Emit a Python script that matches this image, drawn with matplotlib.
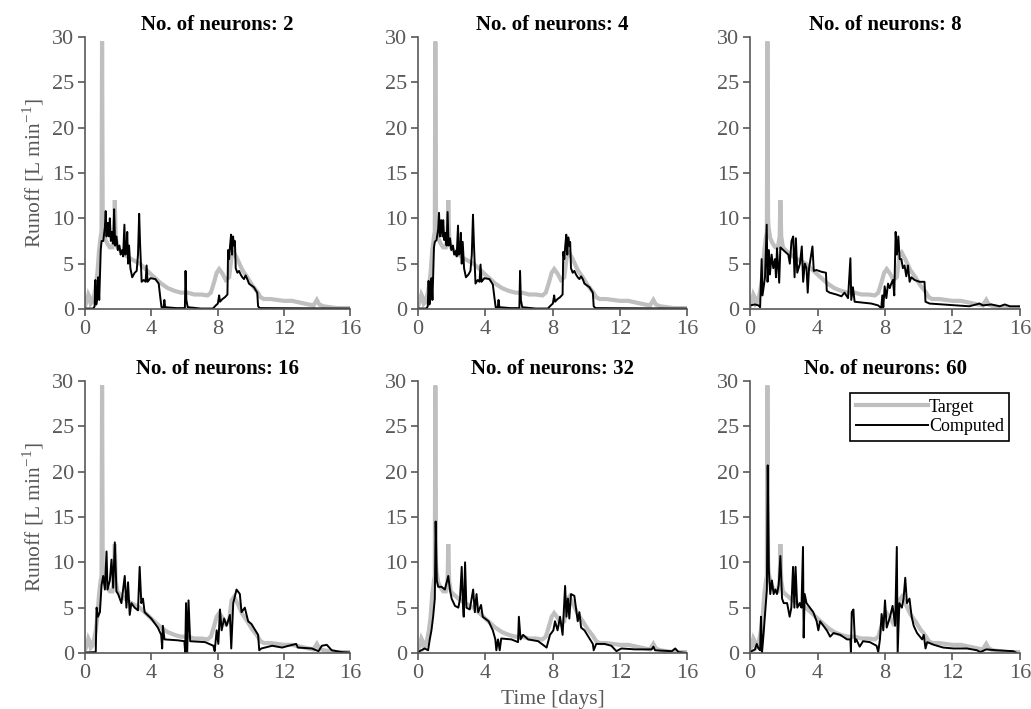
import matplotlib
matplotlib.use("Agg")
import matplotlib.pyplot as plt

plt.rcParams['font.family'] = ['Liberation Serif', 'DejaVu Serif']
plt.rcParams['mathtext.fontset'] = 'custom'
plt.rcParams['mathtext.rm'] = 'Liberation Serif'

# observed runoff (same target in every panel): (day, L/min)
target = [(0, 0.3), (0.1, 0.8), (0.2, 1.6), (0.3, 1.2), (0.35, 0.6), (0.45, 0.8),
          (0.55, 1.5), (0.65, 2.5), (0.75, 4.0), (0.85, 6.5), (0.95, 8.0), (1.0, 8.5),
          (1.03, 29.5), (1.07, 10.0), (1.1, 9.0), (1.2, 7.8), (1.35, 7.2), (1.5, 6.8),
          (1.65, 6.8), (1.76, 8.0), (1.8, 12.0), (1.85, 8.0), (1.95, 6.8), (2.1, 6.5),
          (2.4, 6.0), (2.7, 5.6), (3.0, 5.3), (3.3, 5.0), (3.6, 4.5), (4.0, 3.8),
          (4.3, 3.3), (4.6, 2.8), (5.0, 2.3), (5.4, 2.0), (5.8, 1.8), (6.2, 1.8),
          (6.6, 1.6), (7.0, 1.6), (7.4, 1.5), (7.6, 1.8), (7.8, 3.0), (7.95, 4.0),
          (8.1, 4.4), (8.3, 3.9), (8.5, 3.2), (8.7, 3.5), (8.85, 5.8), (9.0, 6.2),
          (9.2, 5.5), (9.5, 4.3), (9.8, 3.5), (10.1, 2.6), (10.4, 1.9), (10.6, 1.3),
          (10.8, 1.1), (11.2, 1.1), (11.6, 1.0), (12.0, 0.9), (12.5, 0.9), (13.0, 0.7),
          (13.5, 0.5), (13.8, 0.4), (14.0, 1.0), (14.15, 0.5), (14.4, 0.3), (14.8, 0.2),
          (15.2, 0.1), (16.0, 0.1)]

# computed runoff for each network size: (day, L/min)
comp_2 = [(0, 0.05), (0.5, 0.05), (0.58, 0.3), (0.63, 3.2), (0.68, 0.5), (0.74, 1.2),
          (0.8, 3.5), (0.86, 1.0), (0.95, 6.5), (1.0, 7.5), (1.1, 7.5), (1.2, 9.0),
          (1.25, 10.8), (1.3, 8.0), (1.38, 9.5), (1.45, 8.0), (1.5, 10.0), (1.56, 7.5),
          (1.62, 8.5), (1.7, 7.2), (1.76, 11.0), (1.82, 7.0), (1.9, 8.0), (1.98, 6.5),
          (2.08, 7.0), (2.15, 6.0), (2.25, 6.5), (2.3, 5.8), (2.38, 9.3), (2.43, 6.0),
          (2.5, 6.2), (2.55, 8.5), (2.6, 5.0), (2.66, 7.0), (2.74, 4.5), (2.85, 3.5),
          (3.0, 4.0), (3.12, 4.2), (3.2, 6.0), (3.27, 10.5), (3.33, 7.0), (3.42, 3.0),
          (3.55, 3.2), (3.66, 3.0), (3.72, 4.8), (3.78, 3.0), (3.95, 3.4), (4.25, 3.3),
          (4.45, 2.8), (4.55, 1.2), (4.62, 0.2), (4.75, 0.2), (4.79, 1.0), (4.84, 0.2),
          (5.5, 0.1), (6.03, 0.1), (6.07, 4.2), (6.12, 1.0), (6.2, 0.2), (7.0, 0.05),
          (7.72, 0.05), (7.9, 0.4), (8.02, 0.6), (8.1, 1.5), (8.15, 0.8), (8.3, 1.1),
          (8.45, 1.3), (8.6, 1.6), (8.64, 6.5), (8.7, 5.5), (8.76, 7.0), (8.82, 8.2),
          (8.88, 6.0), (8.94, 8.0), (9.0, 7.0), (9.05, 7.5), (9.1, 4.5), (9.2, 4.0),
          (9.3, 4.2), (9.4, 3.8), (9.5, 3.5), (9.6, 3.3), (9.7, 3.7), (9.8, 3.3),
          (9.9, 2.8), (10.05, 2.6), (10.2, 2.4), (10.4, 1.8), (10.45, 0.3), (10.55, 0.1),
          (16, 0.05)]

comp_4 = [(0, 0.05), (0.5, 0.05), (0.58, 0.3), (0.63, 3.1), (0.68, 0.5), (0.74, 1.2),
          (0.8, 3.4), (0.86, 1.0), (0.95, 6.8), (1.0, 7.4), (1.1, 7.6), (1.2, 8.8),
          (1.25, 10.6), (1.3, 8.0), (1.38, 9.8), (1.45, 8.0), (1.5, 9.8), (1.56, 7.6),
          (1.62, 8.4), (1.7, 7.0), (1.76, 10.7), (1.82, 7.0), (1.9, 7.8), (1.98, 6.5),
          (2.08, 7.0), (2.15, 6.0), (2.25, 6.4), (2.3, 5.8), (2.38, 9.2), (2.43, 6.0),
          (2.5, 6.2), (2.55, 8.4), (2.6, 5.0), (2.66, 7.4), (2.74, 4.5), (2.85, 3.5),
          (3.0, 3.8), (3.12, 4.2), (3.2, 6.0), (3.27, 10.4), (3.33, 7.0), (3.42, 2.8),
          (3.55, 3.2), (3.66, 3.0), (3.72, 4.9), (3.78, 3.0), (3.95, 3.4), (4.25, 3.3),
          (4.45, 2.7), (4.55, 1.2), (4.62, 0.2), (4.75, 0.2), (4.79, 1.0), (4.84, 0.2),
          (5.5, 0.1), (6.03, 0.1), (6.07, 4.2), (6.12, 1.0), (6.2, 0.2), (7.0, 0.05),
          (7.72, 0.05), (7.9, 0.4), (8.02, 0.6), (8.1, 1.5), (8.15, 0.8), (8.3, 1.1),
          (8.45, 1.3), (8.6, 1.6), (8.64, 6.3), (8.7, 5.5), (8.76, 7.0), (8.82, 8.2),
          (8.88, 6.0), (8.94, 7.9), (9.0, 7.0), (9.05, 7.4), (9.1, 4.5), (9.2, 4.0),
          (9.3, 4.2), (9.4, 3.8), (9.5, 3.5), (9.6, 3.3), (9.7, 3.6), (9.8, 3.3),
          (9.9, 2.8), (10.05, 2.6), (10.2, 2.4), (10.4, 1.8), (10.45, 0.3), (10.55, 0.1),
          (16, 0.05)]

comp_8 = [(0, 0.4), (0.3, 0.5), (0.5, 0.4), (0.6, 0.2), (0.69, 5.5), (0.74, 1.5),
          (0.89, 3.5), (0.99, 9.3), (1.04, 3.0), (1.12, 6.5), (1.18, 3.8), (1.28, 6.0),
          (1.38, 4.5), (1.48, 5.5), (1.54, 3.5), (1.6, 6.7), (1.73, 2.9), (1.8, 6.8),
          (1.97, 6.5), (2.27, 6.0), (2.36, 5.0), (2.46, 7.5), (2.56, 8.0), (2.64, 3.5),
          (2.72, 7.8), (2.8, 4.0), (2.96, 5.0), (3.07, 6.9), (3.15, 3.0), (3.25, 5.0),
          (3.35, 4.5), (3.42, 1.8), (3.5, 4.5), (3.7, 6.9), (3.78, 4.2), (3.94, 4.3),
          (4.24, 4.1), (4.5, 4.0), (4.55, 2.0), (4.73, 1.8), (5.12, 1.6), (5.42, 1.4),
          (5.6, 1.8), (5.81, 1.2), (5.95, 5.6), (6.0, 1.0), (6.1, 2.4), (6.2, 0.8),
          (6.7, 0.7), (7.19, 0.6), (7.59, 0.4), (7.78, 0.1), (7.84, 1.5), (7.9, 0.2),
          (7.98, 2.5), (8.08, 1.2), (8.18, 2.8), (8.28, 2.3), (8.37, 2.8), (8.47, 3.2),
          (8.55, 1.5), (8.63, 8.5), (8.71, 6.0), (8.79, 8.0), (8.87, 5.5), (8.97, 5.5),
          (9.06, 4.5), (9.16, 4.8), (9.26, 3.6), (9.36, 4.8), (9.46, 3.0), (9.56, 3.5),
          (9.75, 3.2), (10.05, 3.0), (10.34, 3.0), (10.4, 0.8), (10.64, 0.6), (11.43, 0.5),
          (12.2, 0.4), (13.0, 0.3), (13.6, 0.6), (13.8, 0.4), (14.3, 0.5), (14.8, 0.3),
          (15.1, 0.5), (15.4, 0.3), (16.0, 0.3)]

comp_16 = [(0, 0.05), (0.65, 0.1), (0.7, 5.0), (0.78, 4.0), (0.9, 4.5), (1.0, 7.5),
           (1.1, 8.5), (1.2, 7.0), (1.3, 11.2), (1.36, 7.0), (1.5, 8.0), (1.6, 10.3),
           (1.7, 7.2), (1.8, 12.2), (1.9, 6.8), (2.0, 6.5), (2.2, 5.5), (2.4, 8.5),
           (2.5, 5.0), (2.6, 7.8), (2.7, 4.2), (2.8, 5.5), (3.0, 5.0), (3.2, 4.7),
           (3.3, 9.5), (3.4, 5.5), (3.5, 6.0), (3.6, 4.5), (4.0, 3.8), (4.4, 2.8),
           (4.6, 2.0), (4.66, 0.5), (4.7, 3.0), (4.8, 1.5), (5.6, 1.4), (6.0, 1.3),
           (6.05, 0.0), (6.1, 5.5), (6.17, 0.0), (6.25, 5.8), (6.35, 1.3), (7.25, 1.2),
           (7.75, 0.8), (7.83, 0.2), (7.95, 2.5), (8.05, 1.0), (8.15, 4.8), (8.25, 2.5),
           (8.4, 3.8), (8.55, 3.0), (8.75, 4.2), (8.83, 0.5), (8.95, 5.5), (9.15, 7.0),
           (9.35, 6.5), (9.45, 4.5), (9.65, 5.0), (9.85, 3.5), (10.05, 3.2), (10.45, 2.0),
           (10.52, 0.3), (10.65, 0.5), (11.3, 0.8), (11.9, 0.6), (12.3, 0.8), (12.75, 1.0),
           (12.85, 0.6), (13.7, 0.5), (14.1, 0.2), (14.3, 0.8), (14.6, 0.9), (14.9, 0.3),
           (15.5, 0.1), (16.0, 0.05)]

comp_32 = [(0, 0.1), (0.2, 0.3), (0.4, 0.5), (0.6, 0.3), (0.7, 1.5), (0.8, 2.5),
           (0.9, 4.0), (1.0, 6.0), (1.05, 14.5), (1.12, 8.0), (1.2, 7.3), (1.4, 7.3),
           (1.6, 7.0), (1.8, 8.5), (1.9, 7.0), (2.0, 6.0), (2.2, 5.2), (2.4, 5.0),
           (2.5, 6.0), (2.6, 9.5), (2.68, 5.0), (2.72, 4.0), (2.8, 10.0), (2.88, 5.0),
           (3.08, 4.8), (3.28, 7.0), (3.38, 4.5), (3.48, 6.5), (3.58, 4.5), (3.75, 5.3),
           (3.85, 4.0), (4.2, 3.5), (4.45, 2.5), (4.6, 1.5), (4.66, 0.3), (4.76, 1.5),
           (4.86, 0.3), (4.95, 1.6), (5.55, 1.5), (5.95, 1.2), (6.0, 4.0), (6.1, 1.5),
           (6.25, 2.0), (6.55, 1.5), (7.15, 1.3), (7.65, 0.6), (7.85, 2.0), (8.05, 2.5),
           (8.15, 3.5), (8.3, 2.5), (8.45, 4.0), (8.6, 2.0), (8.75, 7.4), (8.83, 4.0),
           (8.92, 6.0), (9.0, 3.8), (9.1, 6.5), (9.3, 6.3), (9.5, 3.5), (9.6, 4.5),
           (9.7, 2.8), (9.9, 2.5), (10.2, 1.6), (10.4, 1.0), (10.45, 0.3), (10.6, 1.0),
           (11.1, 1.0), (11.5, 0.8), (11.8, 0.2), (12.1, 0.5), (12.9, 0.4), (13.9, 0.4),
           (14.0, 0.7), (14.1, 0.3), (15.1, 0.2), (15.3, 0.5), (15.5, 0.1), (16.0, 0.0)]

comp_60 = [(0, 0.1), (0.3, 0.4), (0.4, 1.0), (0.5, 0.5), (0.6, 0.3), (0.65, 4.0),
           (0.71, 0.0), (0.8, 2.0), (0.9, 4.5), (1.0, 7.0), (1.05, 20.7), (1.12, 9.0),
           (1.2, 6.5), (1.3, 8.0), (1.4, 6.5), (1.5, 7.0), (1.6, 6.5), (1.7, 7.5),
           (1.8, 10.7), (1.9, 6.0), (2.0, 5.5), (2.2, 5.5), (2.35, 4.0), (2.45, 5.0),
           (2.55, 9.5), (2.63, 5.0), (2.7, 9.5), (2.8, 5.0), (2.95, 5.5), (3.05, 5.0),
           (3.14, 11.7), (3.18, 1.7), (3.24, 6.5), (3.35, 5.5), (3.55, 5.0), (3.75, 4.5),
           (3.95, 3.5), (4.05, 2.5), (4.15, 3.5), (4.35, 3.0), (4.55, 2.5), (4.75, 1.8),
           (4.95, 2.2), (5.35, 2.0), (5.75, 1.5), (5.95, 1.5), (5.98, 0.0), (6.03, 4.5),
           (6.13, 4.8), (6.22, 1.2), (6.3, 1.5), (6.5, 0.7), (6.7, 1.3), (7.1, 1.2),
           (7.5, 0.8), (7.6, 0.1), (7.7, 1.5), (7.8, 4.3), (7.9, 2.5), (8.0, 5.8),
           (8.1, 2.8), (8.3, 4.0), (8.45, 5.2), (8.6, 3.0), (8.7, 11.7), (8.75, 0.0),
           (8.85, 5.5), (9.0, 5.0), (9.1, 6.0), (9.2, 8.3), (9.3, 5.5), (9.45, 6.0),
           (9.58, 4.0), (9.7, 3.0), (9.9, 2.2), (10.2, 1.5), (10.3, 2.0), (10.4, 0.5),
           (10.5, 1.2), (10.9, 0.9), (11.45, 0.6), (12.05, 0.5), (12.85, 0.5), (13.45, 0.3),
           (13.65, 0.1), (14.0, 0.4), (14.6, 0.3), (15.6, 0.2), (15.8, 0.0)]

neurons = [2, 4, 8, 16, 32, 60]
computed = [comp_2, comp_4, comp_8, comp_16, comp_32, comp_60]

grey = '#595959'
fig = plt.figure(figsize=(10.31, 7.09), dpi=100)

lefts = [85, 418, 750]
widths = [265, 269, 270]
bottoms = [709 - 309, 709 - 653]

tt, tq = zip(*target)
for k, (n, series) in enumerate(zip(neurons, computed)):
    row, col = divmod(k, 3)
    ax = fig.add_axes([lefts[col] / 1031, bottoms[row] / 709,
                       widths[col] / 1031, 272 / 709])
    ct, cq = zip(*series)
    ax.plot(tt, tq, color='#bfbfbf', lw=3, label='Target', solid_joinstyle='miter')
    ax.plot(ct, cq, color='black', lw=1.4, label='Computed')

    ax.set_xlim(0, 16)
    ax.set_ylim(0, 30)
    ax.set_xticks([0, 4, 8, 12, 16])
    ax.set_yticks([0, 5, 10, 15, 20, 25, 30])
    for s in ['top', 'right']:
        ax.spines[s].set_visible(False)
    for s in ['left', 'bottom']:
        ax.spines[s].set_color(grey)
        ax.spines[s].set_linewidth(1.2)
    ax.tick_params(direction='out', length=5, width=1.2, color=grey,
                   labelcolor=grey, labelsize=16, pad=3)
    ax.set_title('No. of neurons: {}'.format(n), fontsize=15, fontweight='bold', pad=5)

    if col == 0:
        ax.set_ylabel('Runoff [L min$^{-1}$]', fontsize=15.5, color=grey, labelpad=4)
    if k == 4:
        ax.set_xlabel('Time [days]', fontsize=15.5, color=grey, labelpad=5)
    if k == 5:
        leg = ax.legend(loc='upper right', bbox_to_anchor=(0.96, 0.955), fontsize=13,
                        handlelength=4.0, handletextpad=0.05, borderpad=0.3,
                        labelspacing=0.15, borderaxespad=0, fancybox=False, framealpha=1)
        leg.get_frame().set_edgecolor('black')
        leg.get_frame().set_linewidth(1.2)

plt.savefig('out.png', dpi=100)
